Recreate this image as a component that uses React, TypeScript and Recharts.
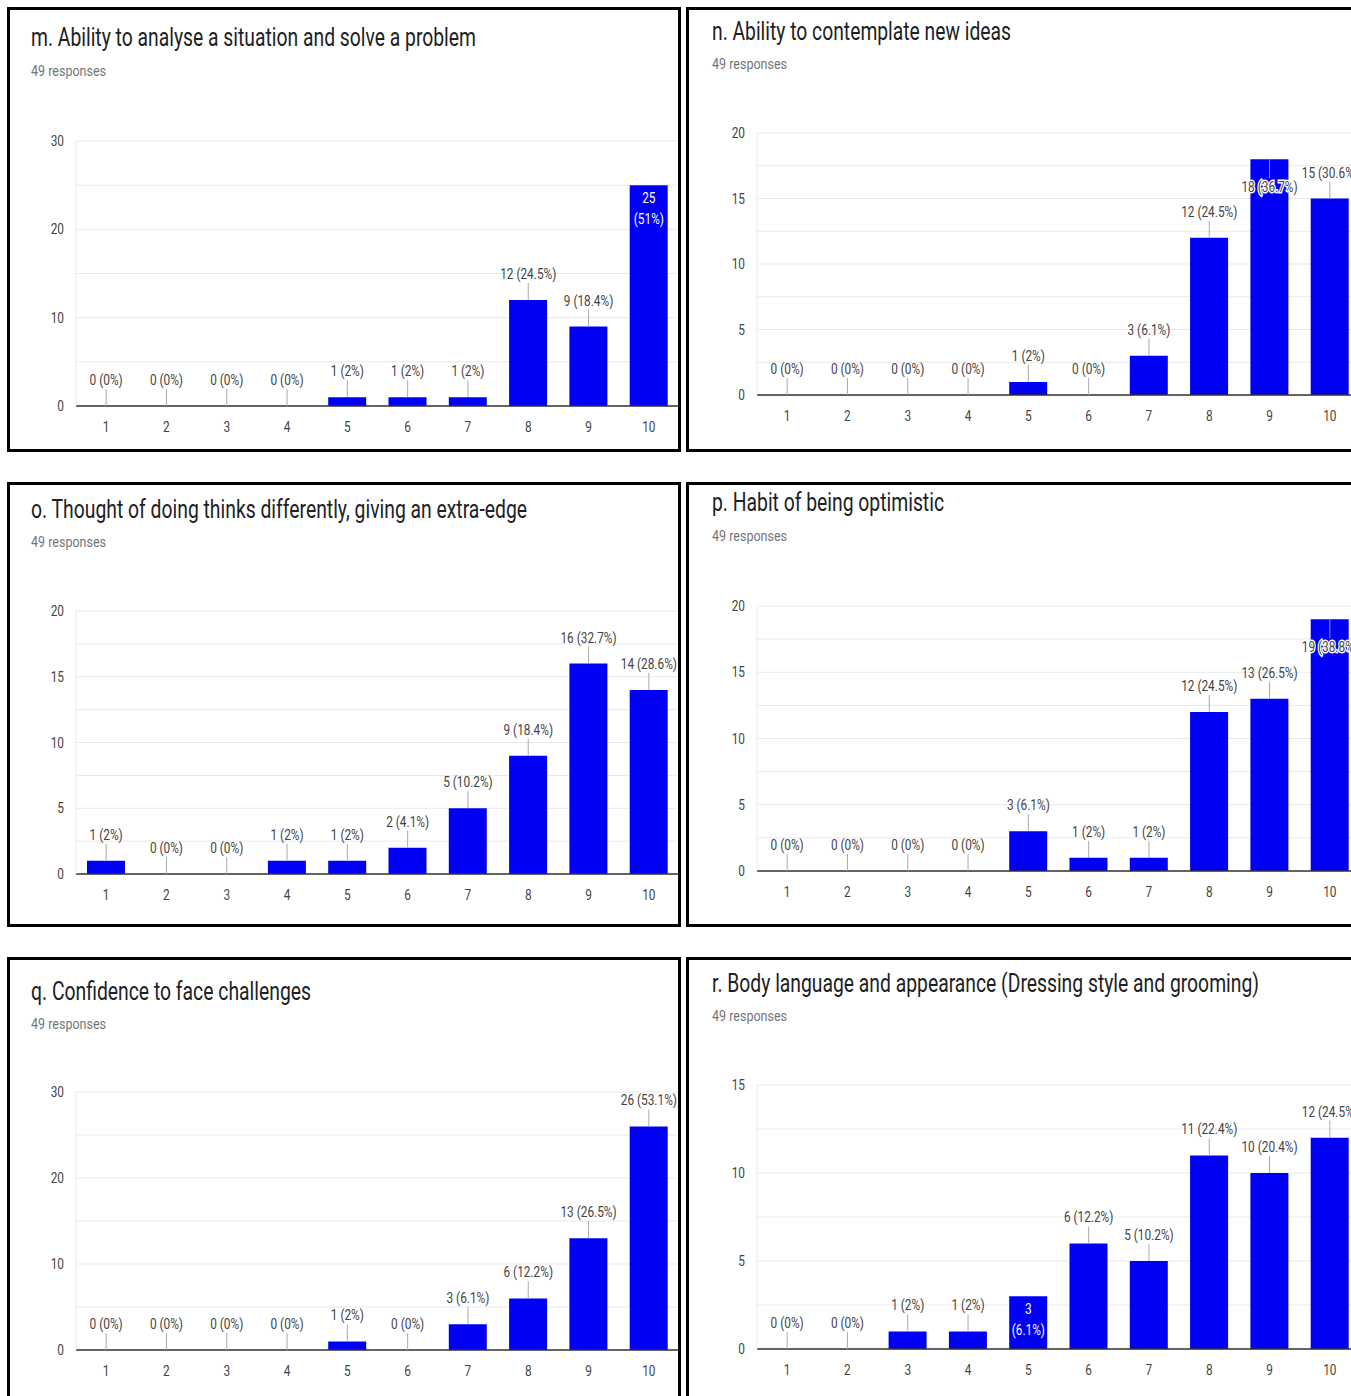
import { ComposedChart, Bar, Line, XAxis, YAxis, CartesianGrid } from "recharts";

const RESPONSES = 49;
const scores = ["1", "2", "3", "4", "5", "6", "7", "8", "9", "10"];

const analyseCounts = [0, 0, 0, 0, 1, 1, 1, 12, 9, 25];
const ideasCounts = [0, 0, 0, 0, 1, 0, 3, 12, 18, 15];
const differentCounts = [1, 0, 0, 1, 1, 2, 5, 9, 16, 14];
const optimismCounts = [0, 0, 0, 0, 3, 1, 1, 12, 13, 19];
const confidenceCounts = [0, 0, 0, 0, 1, 0, 3, 6, 13, 26];
const appearanceCounts = [0, 0, 1, 1, 3, 6, 5, 11, 10, 12];

const ticks30 = [0, 5, 10, 15, 20, 25, 30];
const ticks20 = [0, 2.5, 5, 7.5, 10, 12.5, 15, 17.5, 20];
const ticks15 = [0, 2.5, 5, 7.5, 10, 12.5, 15];

const BLUE = "#0000f5";
const FONT = "Roboto, Arial, sans-serif";
const SX = 0.79; // horizontal squeeze of all lettering
const Y_W = 60;
const M_TOP = 30;
const X_H = 40;

const pct = (v: number) => `${Math.round((v / RESPONSES) * 1000) / 10}%`;

function Sq({
  x,
  y,
  anchor = "middle",
  size = 15,
  fill = "#444",
  halo = false,
  children,
}: any) {
  return (
    <text
      transform={`translate(${x},${y}) scale(${SX},1)`}
      textAnchor={anchor}
      fontSize={size}
      fontFamily={FONT}
      fill={fill}
      stroke={halo ? "#fff" : undefined}
      strokeWidth={halo ? 3 : undefined}
      paintOrder="stroke"
    >
      {children}
    </text>
  );
}

// value labels ride on an invisible line series so that zero counts get one too
function makeLabel(inside: number[], halo: number[]) {
  return (p: any) => {
    const cx = p.cx;
    const top = p.cy;
    const i = p.index;
    const v = Number(p.payload.v);
    if (inside.includes(i)) {
      return (
        <g key={i}>
          <Sq x={cx} y={top + 18} fill="#fff">{v}</Sq>
          <Sq x={cx} y={top + 39} fill="#fff">({pct(v)})</Sq>
        </g>
      );
    }
    if (halo.includes(i)) {
      return (
        <g key={i}>
          <line x1={cx} x2={cx} y1={top} y2={top + 19} stroke="#999" />
          <Sq x={cx} y={top + 33} halo>
            {v} ({pct(v)})
          </Sq>
        </g>
      );
    }
    return (
      <g key={i}>
        <line x1={cx} x2={cx} y1={top} y2={top - 17} stroke="#aaa" />
        <Sq x={cx} y={top - 21}>
          {v} ({pct(v)})
        </Sq>
      </g>
    );
  };
}

type PanelProps = {
  box: { x: number; y: number };
  title: string;
  titleWidth: number;
  titleBase: number;
  respBase: number;
  counts: number[];
  ticks: number[];
  step: number;
  plot: { left: number; top: number; bottom: number };
  inside?: number[];
  halo?: number[];
};

function Panel({
  box,
  title,
  titleWidth,
  titleBase,
  respBase,
  counts,
  ticks,
  step,
  plot,
  inside = [],
  halo = [],
}: PanelProps) {
  const data = scores.map((c, i) => ({ c, v: counts[i] }));
  const plotH = plot.bottom - plot.top;
  const w = Y_W + 603;
  const h = M_TOP + plotH + X_H;
  const textX = box.x < 300 ? 31 : 712;
  return (
    <>
      <div style={{ position: "absolute", left: plot.left - Y_W, top: plot.top - M_TOP }}>
        <ComposedChart
          width={w}
          height={h}
          data={data}
          margin={{ top: M_TOP, right: 0, bottom: 0, left: 0 }}
        >
          <CartesianGrid vertical={false} stroke="#e9e9e9" />
          <XAxis
            dataKey="c"
            height={X_H}
            interval={0}
            tickLine={false}
            axisLine={{ stroke: "#333", strokeWidth: 1.5 }}
            tick={(t: any) => (
              <Sq x={t.x} y={M_TOP + plotH + 26} fill="#444">
                {t.payload.value}
              </Sq>
            )}
          />
          <YAxis
            width={Y_W}
            domain={[0, ticks[ticks.length - 1]]}
            ticks={ticks}
            interval={0}
            tickLine={false}
            axisLine={{ stroke: "#e9e9e9" }}
            tick={(t: any) =>
              t.payload.value % step === 0 ? (
                <Sq x={Y_W - 12} y={t.y + 5} anchor="end" fill="#444">
                  {t.payload.value}
                </Sq>
              ) : (
                <g />
              )
            }
          />
          <Bar dataKey="v" fill={BLUE} barSize={38} isAnimationActive={false} />
          <Line
            dataKey="v"
            stroke="none"
            dot={makeLabel(inside, halo)}
            activeDot={false}
            isAnimationActive={false}
          />
        </ComposedChart>
      </div>
      <svg
        width={674}
        height={445}
        style={{ position: "absolute", left: box.x, top: box.y, overflow: "visible" }}
      >
        <rect x={1.5} y={1.5} width={671} height={442} fill="none" stroke="#000" strokeWidth={3} />
        <text
          x={textX - box.x}
          y={titleBase - box.y}
          fontSize={25}
          fontFamily={FONT}
          fill="#202124"
          textLength={titleWidth}
          lengthAdjust="spacingAndGlyphs"
        >
          {title}
        </text>
        <text
          x={textX - box.x}
          y={respBase - box.y}
          fontSize={15.5}
          fontFamily={FONT}
          fill="#70757a"
          textLength={75}
          lengthAdjust="spacingAndGlyphs"
        >
          49 responses
        </text>
      </svg>
    </>
  );
}

export default function App() {
  return (
    <div
      style={{
        position: "absolute",
        left: 0,
        top: 0,
        width: 1351,
        height: 1396,
        overflow: "hidden",
        background: "#fff",
      }}
    >
      <Panel
        box={{ x: 7, y: 7 }}
        title="m. Ability to analyse a situation and solve a problem"
        titleWidth={445}
        titleBase={46}
        respBase={76}
        counts={analyseCounts}
        ticks={ticks30}
        step={10}
        plot={{ left: 76, top: 141, bottom: 406 }}
        inside={[9]}
      />
      <Panel
        box={{ x: 686, y: 7 }}
        title="n. Ability to contemplate new ideas"
        titleWidth={299}
        titleBase={40}
        respBase={69}
        counts={ideasCounts}
        ticks={ticks20}
        step={5}
        plot={{ left: 757, top: 133, bottom: 395 }}
        halo={[8]}
      />
      <Panel
        box={{ x: 7, y: 482 }}
        title="o. Thought of doing thinks differently, giving an extra-edge"
        titleWidth={496}
        titleBase={518}
        respBase={547}
        counts={differentCounts}
        ticks={ticks20}
        step={5}
        plot={{ left: 76, top: 611, bottom: 874 }}
      />
      <Panel
        box={{ x: 686, y: 482 }}
        title="p. Habit of being optimistic"
        titleWidth={232}
        titleBase={511}
        respBase={541}
        counts={optimismCounts}
        ticks={ticks20}
        step={5}
        plot={{ left: 757, top: 606, bottom: 871 }}
        halo={[9]}
      />
      <Panel
        box={{ x: 7, y: 957 }}
        title="q. Confidence to face challenges"
        titleWidth={280}
        titleBase={1000}
        respBase={1029}
        counts={confidenceCounts}
        ticks={ticks30}
        step={10}
        plot={{ left: 76, top: 1092, bottom: 1350 }}
      />
      <Panel
        box={{ x: 686, y: 957 }}
        title="r. Body language and appearance (Dressing style and grooming)"
        titleWidth={547}
        titleBase={992}
        respBase={1021}
        counts={appearanceCounts}
        ticks={ticks15}
        step={5}
        plot={{ left: 757, top: 1085, bottom: 1349 }}
        inside={[4]}
      />
    </div>
  );
}
